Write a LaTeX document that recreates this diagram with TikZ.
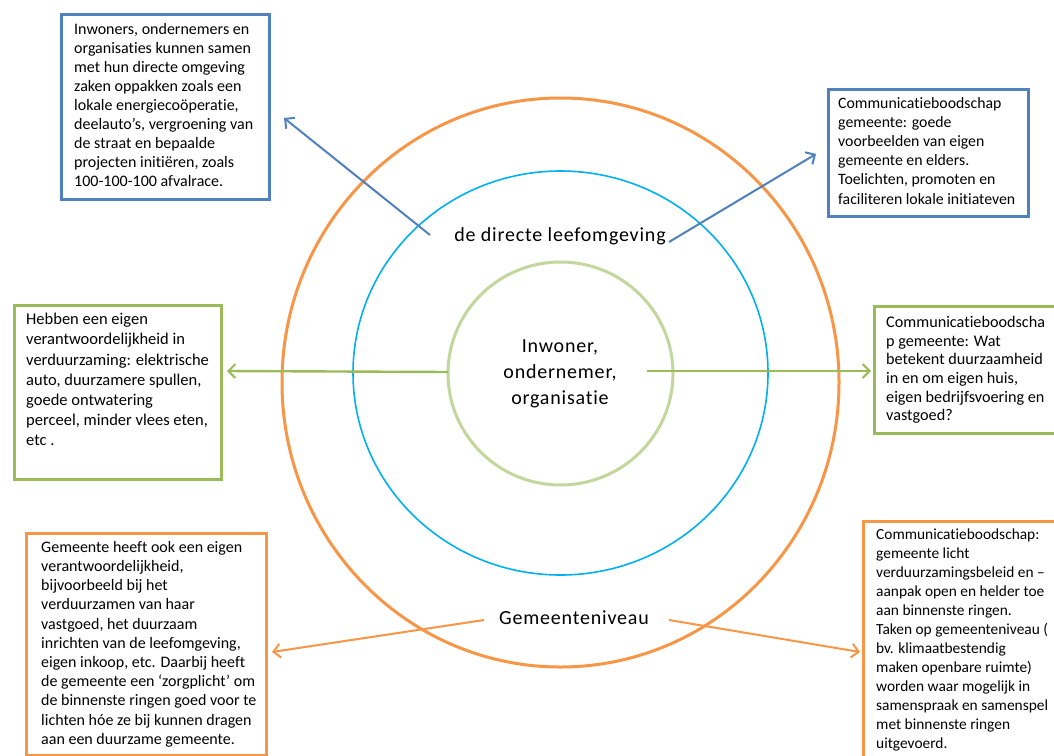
\documentclass[tikz,border=0pt]{standalone}
\usepackage{fontspec}
\setmainfont[Ligatures=NoCommon]{Carlito}
\newfontfamily\ringfont[LetterSpace=4,Ligatures=NoCommon]{Carlito}
\usetikzlibrary{arrows.meta,shapes.geometric}
\definecolor{boxblue}{HTML}{4F81BD}
\definecolor{ringblue}{HTML}{00B0F0}
\definecolor{ringorange}{HTML}{F79646}
\definecolor{ringgreen}{HTML}{C3D69B}
\definecolor{boxgreen}{HTML}{9BBB59}
\begin{document}
\begin{tikzpicture}[x=1pt,y=-1pt,
  frame/.style={draw=#1, line width=2.6pt, fill=white, inner sep=0pt, anchor=north west},
  boxtext/.style={anchor=north west, inner sep=0pt, align=left, text=black},
  ring/.style={ellipse, draw=#1, inner sep=0pt},
  ringlabel/.style={inner sep=0pt, align=center, font=\ringfont\fontsize{20}{26}\selectfont},
  conn/.style={draw=#1, line width=2pt, -{Straight Barb[length=7pt,width=14pt,line width=2pt]}},
]
\path[use as bounding box, clip] (0,0) rectangle (1054,755);
\fill[white] (0,0) rectangle (1054,755);

% rings
\node[ring=ringorange, line width=3pt, minimum width=557pt, minimum height=569pt] (outer) at (560.5,382.5) {};
\node[ring=ringblue, line width=1.6pt, minimum width=415pt, minimum height=404pt] (middle) at (560.5,373) {};
\node[ring=ringgreen, line width=3pt, minimum width=225pt, minimum height=223pt] (inner) at (560.5,373.5) {};

% ring labels
\node[ringlabel] (lblmid) at (560,236) {de directe leefomgeving};
\node[ringlabel] (lblin) at (560,373.5) {Inwoner,\\ondernemer,\\organisatie};
\node[ringlabel] (lblout) at (574,618) {Gemeenteniveau};

% boxes
\node[frame=boxblue, minimum width=208pt, minimum height=185pt] (tlbox) at (60,13) {};
\node[boxtext, font=\fontsize{16}{19}\selectfont] (tltext) at (74,23) {Inwoners, ondernemers en\\organisaties kunnen samen\\met hun directe omgeving\\zaken oppakken zoals een\\lokale energiecoöperatie,\\deelauto’s, vergroening van\\de straat en bepaalde\\projecten initiëren, zoals\\100-100-100 afvalrace.};

\node[frame=boxblue, minimum width=200pt, minimum height=127pt] (trbox) at (827,88) {};
\node[boxtext, font=\fontsize{15.8}{19.2}\selectfont] (trtext) at (838,97) {Communicatieboodschap\\gemeente: goede\\voorbeelden van eigen\\gemeente en elders.\\Toelichten, promoten en\\faciliteren lokale initiateven};

\node[frame=boxgreen, minimum width=207pt, minimum height=174pt] (mlbox) at (13,304) {};
\node[boxtext, font=\fontsize{16.5}{20.2}\selectfont] (mltext) at (26,313) {Hebben een eigen\\verantwoordelijkheid in\\verduurzaming: elektrische\\auto, duurzamere spullen,\\goede ontwatering\\perceel, minder vlees eten,\\etc .};

\node[frame=boxgreen, minimum width=200pt, minimum height=127pt] (mrbox) at (873,305) {};
\node[boxtext, font=\fontsize{16.2}{18.7}\selectfont] (mrtext) at (886,316) {Communicatieboodscha\\p gemeente: Wat\\betekent duurzaamheid\\in en om eigen huis,\\eigen bedrijfsvoering en\\vastgoed?};

\node[frame=ringorange, minimum width=240pt, minimum height=221.5pt] (blbox) at (25,532) {};
\node[boxtext, font=\fontsize{16}{19.2}\selectfont] (bltext) at (41,541) {Gemeente heeft ook een eigen\\verantwoordelijkheid,\\bijvoorbeeld bij het\\verduurzamen van haar\\vastgoed, het duurzaam\\inrichten van de leefomgeving,\\eigen inkoop, etc. Daarbij heeft\\de gemeente een ‘zorgplicht’ om\\de binnenste ringen goed voor te\\lichten hóe ze bij kunnen dragen\\aan een duurzame gemeente.};

\node[frame=ringorange, minimum width=220pt, minimum height=260pt] (brbox) at (862,520) {};
\node[boxtext, font=\fontsize{15.4}{19}\selectfont] (brtext) at (876,529) {Communicatieboodschap:\\gemeente licht\\verduurzamingsbeleid en –\\aanpak open en helder toe\\aan binnenste ringen.\\Taken op gemeenteniveau (\\bv. klimaatbestendig\\maken openbare ruimte)\\worden waar mogelijk in\\samenspraak en samenspel\\met binnenste ringen\\uitgevoerd.};

% connector ends
\coordinate (tlfrom) at (430,235);
\coordinate (tlto) at (284,118);
\coordinate (trfrom) at (669,242);
\coordinate (trto) at (816,154);
\coordinate (mlfrom) at (448,372);
\coordinate (mlto) at (227,371);
\coordinate (mrfrom) at (647,371);
\coordinate (mrto) at (871,371);
\coordinate (blfrom) at (484,620);
\coordinate (blto) at (272,652);
\coordinate (brfrom) at (669,620);
\coordinate (brto) at (860,652);

\draw[conn=boxblue] (tlfrom) -- (tlto);
\draw[conn=boxblue] (trfrom) -- (trto);
\draw[conn=boxgreen, line width=2.4pt] (mlfrom) -- (mlto);
\draw[conn=boxgreen, line width=2.4pt] (mrfrom) -- (mrto);
\draw[conn=ringorange] (blfrom) -- (blto);
\draw[conn=ringorange] (brfrom) -- (brto);
\end{tikzpicture}
\end{document}
